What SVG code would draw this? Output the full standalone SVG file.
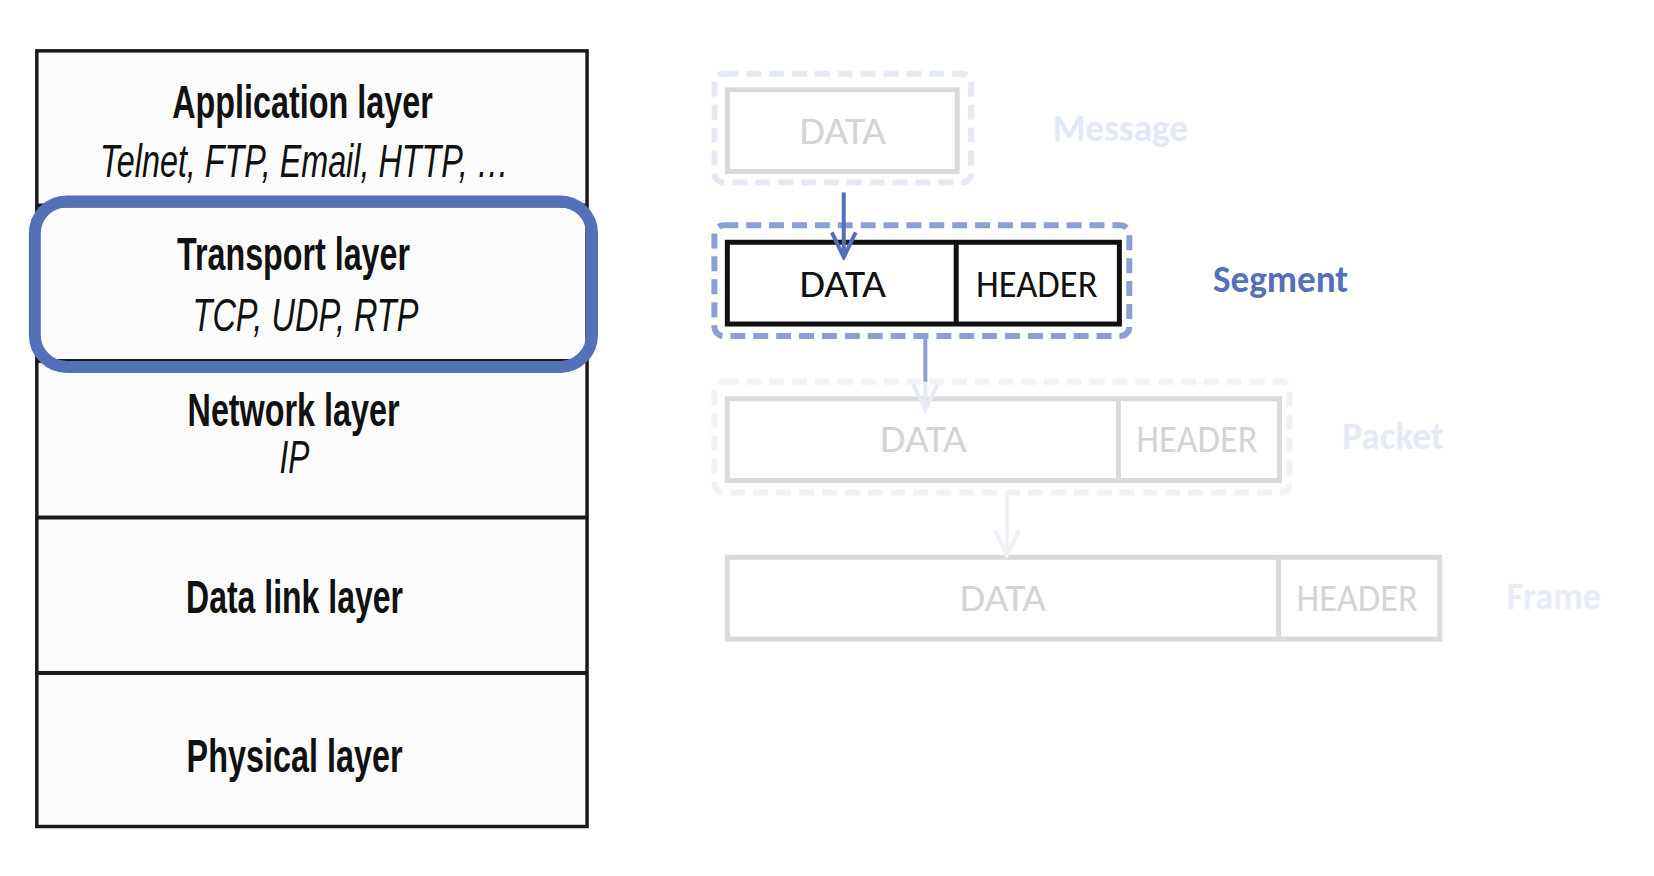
<svg xmlns="http://www.w3.org/2000/svg" width="1654" height="876" viewBox="0 0 1654 876">
<defs>
<style>
.lay{font-family:"Liberation Sans Narrow","Liberation Sans",Arial,sans-serif;font-weight:bold;font-size:46px;fill:#111;text-anchor:middle}
.sub{font-family:"Liberation Sans Narrow","Liberation Sans",Arial,sans-serif;font-style:italic;font-size:46px;fill:#111;text-anchor:middle}
.cell{font-family:Carlito,Lato,"Open Sans",sans-serif;font-size:40px;text-anchor:middle}
.lbl{font-family:Carlito,Lato,"Open Sans",sans-serif;font-weight:bold;font-size:38px}
.dash{fill:none;stroke-width:6;stroke-dasharray:15 8}
.ibox{fill:#fff;stroke-width:5}
</style>
<marker id="ahBlue" markerWidth="30" markerHeight="30" viewBox="0 0 30 30" refX="27" refY="15" orient="auto" markerUnits="userSpaceOnUse">
<polyline points="2,3 27,15 2,27" fill="none" stroke="#5470b9" stroke-width="4"/>
</marker>
<marker id="ahPale" markerWidth="30" markerHeight="30" viewBox="0 0 30 30" refX="27" refY="15" orient="auto" markerUnits="userSpaceOnUse">
<polyline points="2,3 27,15 2,27" fill="none" stroke="#e6eaf5" stroke-width="4"/>
</marker>
<marker id="ahPaler" markerWidth="30" markerHeight="30" viewBox="0 0 30 30" refX="27" refY="15" orient="auto" markerUnits="userSpaceOnUse">
<polyline points="2,3 27,15 2,27" fill="none" stroke="#f0f2f8" stroke-width="4"/>
</marker>
</defs>
<rect width="1654" height="876" fill="#fff"/>

<g transform="matrix(0.995 0 0 0.997 0 0)">
<g id="stack">
<rect x="37" y="51" width="553" height="778" fill="#fcfcfc" stroke="#1a1a1a" stroke-width="3.5"/>
<line x1="37" y1="206" x2="590" y2="206" stroke="#1a1a1a" stroke-width="4"/>
<line x1="37" y1="362" x2="590" y2="362" stroke="#1a1a1a" stroke-width="4"/>
<line x1="37" y1="519" x2="590" y2="519" stroke="#1a1a1a" stroke-width="4"/>
<line x1="37" y1="675" x2="590" y2="675" stroke="#1a1a1a" stroke-width="4"/>
</g>

<g id="application-layer">
<text class="lay" x="304" y="118" textLength="262" lengthAdjust="spacingAndGlyphs">Application layer</text>
<text class="sub" x="306" y="178" textLength="411" lengthAdjust="spacingAndGlyphs">Telnet, FTP, Email, HTTP, …</text>
</g>
<g id="transport-layer">
<text class="lay" x="295" y="271" textLength="234" lengthAdjust="spacingAndGlyphs">Transport layer</text>
<text class="sub" x="307" y="332" textLength="227" lengthAdjust="spacingAndGlyphs">TCP, UDP, RTP</text>
</g>
<g id="network-layer">
<text class="lay" x="295" y="427" textLength="213" lengthAdjust="spacingAndGlyphs">Network layer</text>
<text class="sub" x="296" y="474" textLength="30" lengthAdjust="spacingAndGlyphs">IP</text>
</g>
<g id="data-link-layer">
<text class="lay" x="296" y="615" textLength="218" lengthAdjust="spacingAndGlyphs">Data link layer</text>
</g>
<g id="physical-layer">
<text class="lay" x="296" y="774" textLength="217" lengthAdjust="spacingAndGlyphs">Physical layer</text>
</g>
<g id="transport-highlight">
<rect x="35" y="202" width="560" height="166" rx="32" ry="32" fill="none" stroke="#5470b9" stroke-width="12"/>
</g>

<g id="message">
<rect class="dash" x="718" y="74" width="258" height="109" rx="9" stroke="#e4e9f5"/>
<rect class="ibox" x="731" y="90" width="231" height="82" stroke="#d9d9d9"/>
<text class="cell" x="847" y="144" fill="#d4d4d4" textLength="87" lengthAdjust="spacingAndGlyphs">DATA</text>
<text class="lbl" x="1058" y="141" fill="#e3e8f5" textLength="136" lengthAdjust="spacingAndGlyphs">Message</text>
</g>

<g id="segment">
<rect class="dash" x="718" y="226" width="417" height="111" rx="9" stroke="#8c9fd5"/>
<rect class="ibox" x="731" y="243" width="394" height="82" stroke="#111"/>
<line x1="961" y1="243" x2="961" y2="325" stroke="#111" stroke-width="5"/>
<text class="cell" x="847" y="298" fill="#111" textLength="87" lengthAdjust="spacingAndGlyphs">DATA</text>
<text class="cell" x="1042" y="298" fill="#111" textLength="122" lengthAdjust="spacingAndGlyphs">HEADER</text>
<text class="lbl" x="1219" y="293" fill="#5470b9" textLength="136" lengthAdjust="spacingAndGlyphs">Segment</text>
</g>

<g id="packet">
<rect class="dash" x="718" y="383" width="578" height="111" rx="9" stroke="#f1f2f7"/>
<rect class="ibox" x="731" y="400" width="555" height="82" stroke="#dadada"/>
<line x1="1124" y1="400" x2="1124" y2="482" stroke="#dadada" stroke-width="5"/>
<text class="cell" x="928" y="453" fill="#d4d4d4" textLength="87" lengthAdjust="spacingAndGlyphs">DATA</text>
<text class="cell" x="1203" y="453" fill="#d4d4d4" textLength="122" lengthAdjust="spacingAndGlyphs">HEADER</text>
<text class="lbl" x="1349" y="450" fill="#e6eaf6" textLength="102" lengthAdjust="spacingAndGlyphs">Packet</text>
</g>

<g id="frame">
<rect class="ibox" x="731" y="559" width="716" height="82" stroke="#dadada"/>
<line x1="1285" y1="559" x2="1285" y2="641" stroke="#dadada" stroke-width="5"/>
<text class="cell" x="1008" y="613" fill="#d4d4d4" textLength="87" lengthAdjust="spacingAndGlyphs">DATA</text>
<text class="cell" x="1364" y="613" fill="#d4d4d4" textLength="122" lengthAdjust="spacingAndGlyphs">HEADER</text>
<text class="lbl" x="1514" y="611" fill="#e8ecf7" textLength="95" lengthAdjust="spacingAndGlyphs">Frame</text>
</g>

<g id="connectors">
<line x1="848" y1="193" x2="848" y2="258" stroke="#5470b9" stroke-width="4" marker-end="url(#ahBlue)"/>
<line x1="930" y1="337" x2="930" y2="383" stroke="#8c9fd5" stroke-width="4"/>
<line x1="930" y1="383" x2="930" y2="411" stroke="#e6eaf5" stroke-width="4" marker-end="url(#ahPale)"/>
<line x1="1012" y1="494" x2="1012" y2="557" stroke="#f0f2f8" stroke-width="4" marker-end="url(#ahPaler)"/>
</g>
</g>
</svg>
